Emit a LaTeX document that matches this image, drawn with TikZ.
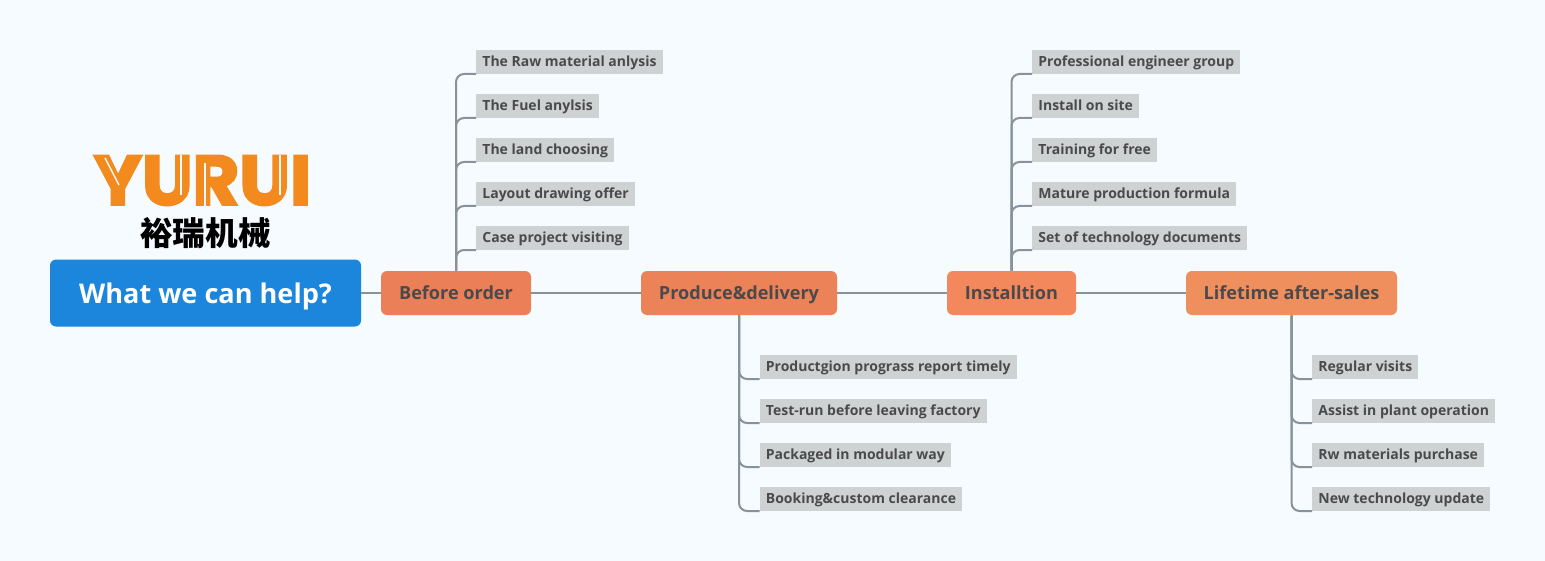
\documentclass[tikz,border=0pt]{standalone}
\usepackage{fontspec}
\setmainfont{Open Sans}
\newfontfamily\cjkfont{Noto Sans CJK SC}
\newfontfamily\logofont[FakeBold=3.2]{Poppins}
\usetikzlibrary{positioning}

\definecolor{pagebg}{HTML}{F5FBFF}
\definecolor{rootblue}{HTML}{1B86DB}
\definecolor{logoorange}{HTML}{F28A1E}
\definecolor{inktext}{HTML}{4A4A4C}
\definecolor{leafgray}{HTML}{CFD2D3}
\definecolor{branchgray}{HTML}{87929B}
\definecolor{stageA}{RGB}{235,128,88}
\definecolor{stageB}{RGB}{236,131,88}
\definecolor{stageC}{RGB}{242,136,92}
\definecolor{stageD}{RGB}{238,143,93}

\begin{document}
\begin{tikzpicture}[
  x=0.5pt, y=-0.5pt,
  root/.style={fill=rootblue, rounded corners=3pt, minimum width=155.5pt, minimum height=33.5pt, inner sep=0pt, text height=12pt, text depth=1.1pt, text=white, font=\fontsize{13.55}{17}\selectfont\bfseries},
  stage/.style={rounded corners=3pt, minimum height=22pt, inner sep=0pt, text height=7.5pt, text depth=1.5pt, text=inktext, font=\fontsize{9.05}{11}\selectfont\bfseries},
  leaf/.style={fill=leafgray, minimum height=12pt, inner xsep=3pt, inner ysep=0pt, text height=6.4pt, text depth=1.4pt, text=inktext, font=\fontsize{7}{9}\selectfont\bfseries},
  branch/.style={draw=branchgray, line width=1pt},
  curve/.style={branch, rounded corners=4pt},
  slit/.style={draw=pagebg, line width=0.7pt}
]

\fill[pagebg] (0,0) rectangle (1545,561);

% Logo
\node[inner sep=0pt, xscale=1.025, text=logoorange, font=\logofont\fontsize{35}{40}\selectfont\bfseries] (logo) at (202.5,180.5) {YURUI};
\node[inner sep=0pt, font=\cjkfont\fontsize{16.3}{18}\selectfont\bfseries] (logocn) at (205.5,233) {裕瑞机械};
\draw[slit] (105,158) -- (119,185);
\draw[slit] (181,155) -- (181,195);
\draw[slit] (205,163) -- (205,207);
\draw[slit] (280,155) -- (280,195);

% Main row
\node[root] (help) at (205.5,293) {What we can help?};
\node[stage, fill=stageA, minimum width=75pt] (before) at (456,293) {Before order};
\node[stage, fill=stageB, minimum width=98pt] (produce) at (739,293) {Produce\&delivery};
\node[stage, fill=stageC, minimum width=64.5pt] (install) at (1011.5,293) {Installtion};
\node[stage, fill=stageD, minimum width=105.5pt] (lifetime) at (1291.5,293) {Lifetime after-sales};

% Leaves above Before order
\node[leaf, anchor=south west] (rawmat) at (476,74) {The Raw material anlysis};
\node[leaf, below=22pt of rawmat.south west, anchor=south west] (fuel) {The Fuel anylsis};
\node[leaf, below=22pt of fuel.south west, anchor=south west] (land) {The land choosing};
\node[leaf, below=22pt of land.south west, anchor=south west] (layout) {Layout drawing offer};
\node[leaf, below=22pt of layout.south west, anchor=south west] (visiting) {Case project visiting};

% Leaves below Produce&delivery
\node[leaf, anchor=south west] (report) at (759.5,379) {Productgion prograss report timely};
\node[leaf, below=22pt of report.south west, anchor=south west] (testrun) {Test-run before leaving factory};
\node[leaf, below=22pt of testrun.south west, anchor=south west] (modular) {Packaged in modular way};
\node[leaf, below=22pt of modular.south west, anchor=south west] (booking) {Booking\&custom clearance};

% Leaves above Installtion
\node[leaf, anchor=south west] (engineer) at (1032,74) {Professional engineer group};
\node[leaf, below=22pt of engineer.south west, anchor=south west] (onsite) {Install on site};
\node[leaf, below=22pt of onsite.south west, anchor=south west] (training) {Training for free};
\node[leaf, below=22pt of training.south west, anchor=south west] (formula) {Mature production formula};
\node[leaf, below=22pt of formula.south west, anchor=south west] (documents) {Set of technology documents};

% Leaves below Lifetime after-sales
\node[leaf, anchor=south west] (visits) at (1312,379) {Regular visits};
\node[leaf, below=22pt of visits.south west, anchor=south west] (assist) {Assist in plant operation};
\node[leaf, below=22pt of assist.south west, anchor=south west] (purchase) {Rw materials purchase};
\node[leaf, below=22pt of purchase.south west, anchor=south west] (update) {New technology update};

% Main row lines
\draw[branch] (help) -- (before);
\draw[branch] (before) -- (produce);
\draw[branch] (produce) -- (install);
\draw[branch] (install) -- (lifetime);

% Branches
\draw[curve] (before.north) |- (rawmat.south west);
\draw[curve] (before.north) |- (fuel.south west);
\draw[curve] (before.north) |- (land.south west);
\draw[curve] (before.north) |- (layout.south west);
\draw[curve] (before.north) |- (visiting.south west);

\draw[curve] (produce.south) |- (report.south west);
\draw[curve] (produce.south) |- (testrun.south west);
\draw[curve] (produce.south) |- (modular.south west);
\draw[curve] (produce.south) |- (booking.south west);

\draw[curve] (install.north) |- (engineer.south west);
\draw[curve] (install.north) |- (onsite.south west);
\draw[curve] (install.north) |- (training.south west);
\draw[curve] (install.north) |- (formula.south west);
\draw[curve] (install.north) |- (documents.south west);

\draw[curve] (lifetime.south) |- (visits.south west);
\draw[curve] (lifetime.south) |- (assist.south west);
\draw[curve] (lifetime.south) |- (purchase.south west);
\draw[curve] (lifetime.south) |- (update.south west);

\end{tikzpicture}
\end{document}
